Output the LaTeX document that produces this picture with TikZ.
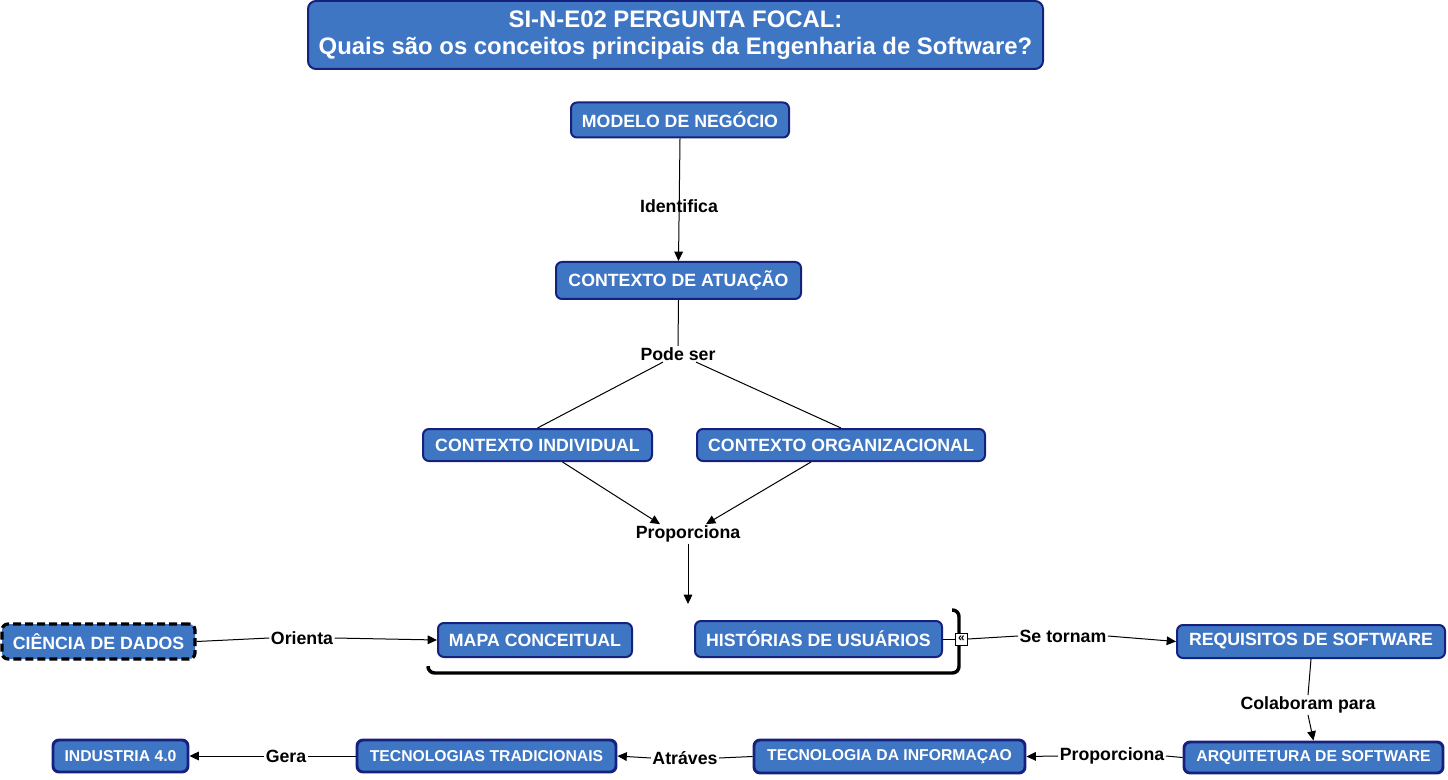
\documentclass[tikz,border=0pt]{standalone}
\usepackage{fontspec}
\setmainfont{Liberation Sans}
\usetikzlibrary{arrows.meta,calc}
\definecolor{nodefill}{RGB}{62,118,196}
\definecolor{nodeline}{RGB}{22,32,125}
\begin{document}
\begin{tikzpicture}[x=0.75pt,y=-0.75pt,
  concept/.style={draw=nodeline, fill=nodefill, line width=1.5pt, rounded corners=4.5pt,
    text=white, font=\fontsize{13.3}{15}\selectfont\bfseries, inner sep=0pt, align=center},
  lowconcept/.style={concept, line width=2.2pt, font=\fontsize{11.8}{14}\selectfont\bfseries},
  sz/.style 2 args={minimum width={#1*0.75pt}, minimum height={#2*0.75pt}},
  lbl/.style={font=\fontsize{13.3}{15}\selectfont\bfseries, text=black, inner sep=1pt, fill=white},
  conn/.style={draw=black, line width=0.75pt},
  arr/.style={conn, -{Triangle[length=7pt,width=6.5pt]}},
]
\useasboundingbox (0,0) rectangle (1448,780);

% title
\node[concept, sz={735}{68}, rounded corners=6pt, font=\fontsize{17.9}{20.5}\selectfont\bfseries] (title) at (675.5,35)
  {SI-N-E02 PERGUNTA FOCAL:\\Quais são os conceitos principais da Engenharia de Software?};

% concepts
\node[concept, sz={218}{35}] (mn) at (680,120) {MODELO DE NEGÓCIO};
\node[concept, sz={245}{37}] (ca) at (678.5,280.5) {CONTEXTO DE ATUAÇÃO};
\node[concept, sz={229}{32}] (ci) at (537.5,445) {CONTEXTO INDIVIDUAL};
\node[concept, sz={288}{32}] (co) at (841,445) {CONTEXTO ORGANIZACIONAL};

% container shadow
\draw[line width=2.6pt, rounded corners=5pt] (952,610) -| (959,673) -| (428,668);

\node[concept, sz={194}{34}] (mc) at (535,640) {MAPA CONCEITUAL};
\node[concept, sz={247}{36}] (hu) at (818.5,639) {HISTÓRIAS DE USUÁRIOS};
\node[concept, sz={193}{35}, draw=black, line width=2.4pt, dash pattern=on 6pt off 3pt] (cd) at (98.5,641.5) {CIÊNCIA DE DADOS};
\node[concept, sz={268}{33}] (rs) at (1311,641.5) {REQUISITOS DE SOFTWARE};

\node[lowconcept, sz={259}{31}] (as) at (1313.5,757.5) {ARQUITETURA DE SOFTWARE};
\node[lowconcept, sz={271}{33}] (ti) at (889.5,756.5) {TECNOLOGIA DA INFORMAÇAO};
\node[lowconcept, sz={259}{32}] (tt) at (486.5,756) {TECNOLOGIAS TRADICIONAIS};
\node[lowconcept, sz={135}{32}] (i4) at (120.5,756) {INDUSTRIA 4.0};

% icon
\node[draw=black, fill=white, line width=0.6pt, minimum size=9pt, inner sep=0pt,
  font=\fontsize{9}{9}\selectfont\bfseries] (ic) at (961.5,639) {«};

% labels
\node[lbl, fill=none] (l1) at (679,206) {Identifica};
\node[lbl] (l2) at (678,354) {Pode ser};
\node[lbl] (l3) at (688,534) {Proporciona};
\node[lbl] (l4) at (302,638) {Orienta};
\node[lbl] (l5) at (1063,636) {Se tornam};
\node[lbl] (l6) at (1308,705) {Colaboram para};
\node[lbl] (l7) at (1112,756) {Proporciona};
\node[lbl] (l8) at (685,758) {Atráves};
\node[lbl] (l9) at (286,756) {Gera};

% connectors
\draw[arr] (mn.south) -- (ca.north);
\draw[conn] (ca.south) -- (l2.north);
\draw[conn] ($(l2.south)+(-15,0)$) -- (ci.north);
\draw[conn] ($(l2.south)+(18,0)$) -- (co.north);
\draw[arr] ($(ci.south)+(25,0)$) -- ($(l3.north)+(-28,0)$);
\draw[arr] ($(co.south)+(-30,0)$) -- ($(l3.north)+(18,0)$);
\draw[arr] (l3.south) -- (688,604);
\draw[conn] (cd.east) -- (l4.west);
\draw[arr] (l4.east) -- (mc.west);
\draw[conn] (hu.east) -- (ic.west);
\draw[conn] (ic.east) -- (l5.west);
\draw[arr] (l5.east) -- (rs.west);
\draw[conn] (rs.south) -- (l6.north);
\draw[arr] (l6.south) -- (as.north);
\draw[conn] (as.west) -- (l7.east);
\draw[arr] (l7.west) -- (ti.east);
\draw[conn] (ti.west) -- (l8.east);
\draw[arr] (l8.west) -- (tt.east);
\draw[conn] (tt.west) -- (l9.east);
\draw[arr] (l9.west) -- (i4.east);
\end{tikzpicture}
\end{document}
